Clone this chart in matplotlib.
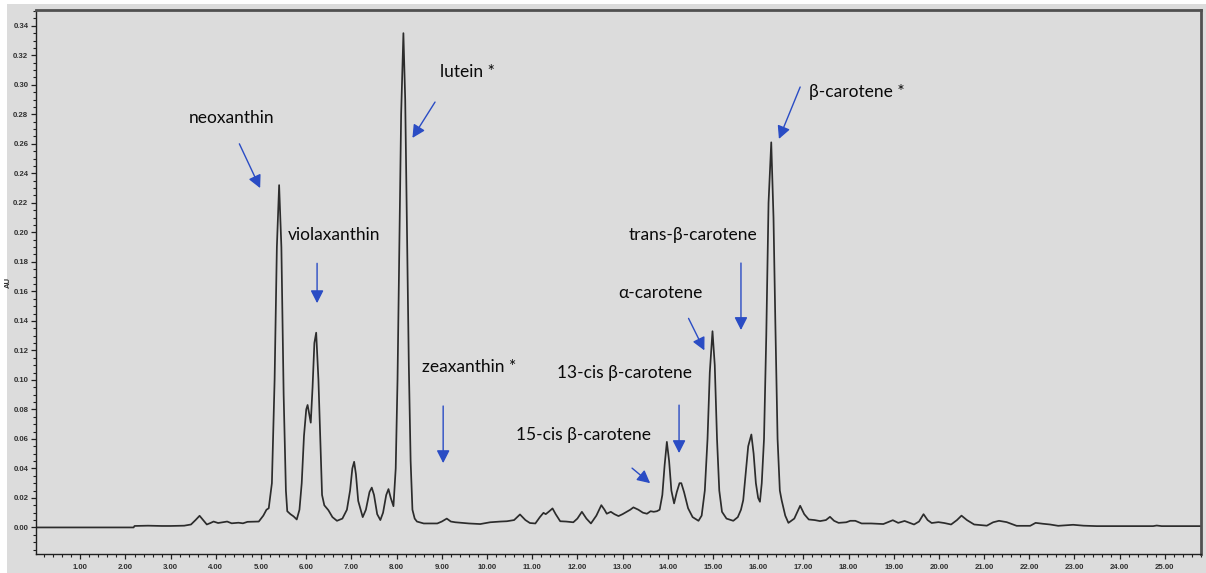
import matplotlib
matplotlib.use("Agg")
import matplotlib.pyplot as plt
from matplotlib.ticker import MultipleLocator, FormatStrFormatter
from matplotlib.patches import Rectangle

# ---- data ----
time_min = [0.00, 2.18, 2.20, 2.50, 2.80, 3.00, 3.30, 3.45, 3.55, 3.64, 3.72, 3.80, 3.88, 3.95,
            4.05, 4.25, 4.35, 4.50, 4.60, 4.70, 4.95, 5.05, 5.12, 5.17, 5.24, 5.30, 5.35, 5.40,
            5.45, 5.50, 5.55, 5.58, 5.65, 5.72, 5.79, 5.85, 5.90, 5.95, 6.00, 6.03, 6.07, 6.10,
            6.14, 6.18, 6.22, 6.27, 6.31, 6.35, 6.40, 6.49, 6.58, 6.68, 6.80, 6.90, 6.97, 7.02,
            7.06, 7.10, 7.15, 7.25, 7.32, 7.40, 7.45, 7.50, 7.57, 7.64, 7.70, 7.77, 7.82, 7.87,
            7.93, 7.98, 8.02, 8.06, 8.10, 8.15, 8.19, 8.23, 8.27, 8.31, 8.35, 8.40, 8.45, 8.60,
            8.90, 9.00, 9.11, 9.20, 9.30, 9.60, 9.85, 10.07, 10.30, 10.44, 10.60, 10.73, 10.85,
            10.95, 11.07, 11.17, 11.25, 11.30, 11.38, 11.45, 11.52, 11.62, 11.75, 11.91, 12.00,
            12.10, 12.20, 12.30, 12.42, 12.53, 12.60, 12.65, 12.74, 12.82, 12.91, 13.00, 13.09,
            13.17, 13.24, 13.35, 13.45, 13.54, 13.62, 13.69, 13.76, 13.82, 13.88, 13.93, 13.98,
            14.03, 14.08, 14.14, 14.20, 14.26, 14.30, 14.36, 14.45, 14.55, 14.68, 14.75, 14.82,
            14.88, 14.93, 14.99, 15.04, 15.09, 15.14, 15.20, 15.30, 15.45, 15.55, 15.62, 15.67,
            15.72, 15.78, 15.85, 15.90, 15.95, 16.00, 16.04, 16.08, 16.13, 16.18, 16.23, 16.29,
            16.34, 16.38, 16.43, 16.48, 16.52, 16.60, 16.67, 16.80, 16.93, 17.02, 17.12, 17.25,
            17.37, 17.50, 17.59, 17.68, 17.78, 17.95, 18.04, 18.15, 18.29, 18.50, 18.77, 18.98,
            19.10, 19.24, 19.45, 19.56, 19.66, 19.75, 19.84, 19.99, 20.12, 20.27, 20.40, 20.50,
            20.62, 20.78, 21.06, 21.20, 21.33, 21.50, 21.72, 22.02, 22.14, 22.30, 22.46, 22.64,
            22.97, 23.20, 23.49, 24.74, 24.82, 24.93, 25.80]
absorbance_au = [0.0000, 0.0000, 0.0010, 0.0012, 0.0010, 0.0010, 0.0012, 0.0020, 0.0050, 0.0079,
                 0.0050, 0.0020, 0.0030, 0.0040, 0.0030, 0.0040, 0.0028, 0.0032, 0.0028, 0.0038,
                 0.0040, 0.0080, 0.0120, 0.0130, 0.0300, 0.1000, 0.1900, 0.2320, 0.1900, 0.0900,
                 0.0250, 0.0110, 0.0090, 0.0075, 0.0054, 0.0120, 0.0300, 0.0620, 0.0800, 0.0830,
                 0.0760, 0.0710, 0.0950, 0.1250, 0.1320, 0.1000, 0.0600, 0.0220, 0.0150, 0.0117,
                 0.0070, 0.0045, 0.0060, 0.0120, 0.0250, 0.0400, 0.0445, 0.0360, 0.0180, 0.0070,
                 0.0120, 0.0240, 0.0270, 0.0220, 0.0090, 0.0050, 0.0100, 0.0220, 0.0260, 0.0200,
                 0.0144, 0.0400, 0.1000, 0.1900, 0.2800, 0.3350, 0.2900, 0.2000, 0.1100, 0.0450,
                 0.0120, 0.0060, 0.0040, 0.0027, 0.0027, 0.0040, 0.0060, 0.0040, 0.0035, 0.0027,
                 0.0023, 0.0035, 0.0040, 0.0042, 0.0050, 0.0088, 0.0050, 0.0030, 0.0027, 0.0070,
                 0.0099, 0.0090, 0.0110, 0.0129, 0.0090, 0.0042, 0.0040, 0.0035, 0.0060, 0.0106,
                 0.0060, 0.0027, 0.0080, 0.0151, 0.0120, 0.0093, 0.0106, 0.0090, 0.0077, 0.0090,
                 0.0106, 0.0120, 0.0136, 0.0120, 0.0100, 0.0093, 0.0110, 0.0106, 0.0110, 0.0120,
                 0.0220, 0.0420, 0.0580, 0.0450, 0.0250, 0.0163, 0.0240, 0.0300, 0.0300, 0.0240,
                 0.0130, 0.0070, 0.0045, 0.0080, 0.0250, 0.0600, 0.1050, 0.1330, 0.1100, 0.0600,
                 0.0250, 0.0106, 0.0060, 0.0045, 0.0070, 0.0120, 0.0185, 0.0350, 0.0550, 0.0630,
                 0.0500, 0.0300, 0.0200, 0.0174, 0.0300, 0.0600, 0.1300, 0.2200, 0.2610, 0.2100,
                 0.1400, 0.0600, 0.0250, 0.0185, 0.0080, 0.0031, 0.0060, 0.0147, 0.0090, 0.0054,
                 0.0050, 0.0043, 0.0050, 0.0072, 0.0045, 0.0031, 0.0035, 0.0045, 0.0045, 0.0027,
                 0.0027, 0.0023, 0.0049, 0.0031, 0.0044, 0.0020, 0.0040, 0.0090, 0.0050, 0.0030,
                 0.0036, 0.0030, 0.0020, 0.0050, 0.0080, 0.0050, 0.0020, 0.0012, 0.0035, 0.0045,
                 0.0036, 0.0011, 0.0011, 0.0031, 0.0025, 0.0020, 0.0011, 0.0018, 0.0012, 0.0009,
                 0.0009, 0.0013, 0.0009, 0.0009]

peak_labels = ["neoxanthin", "violaxanthin", "lutein *", "zeaxanthin *", "15-cis β-carotene",
               "13-cis β-carotene", "α-carotene", "trans-β-carotene", "β-carotene *"]
label_time = [4.35, 6.61, 9.57, 9.60, 12.14, 13.04, 13.83, 14.55, 18.18]
label_au = [0.2775, 0.198, 0.3087, 0.1087, 0.0626, 0.1046, 0.1589, 0.198, 0.295]
arrow_tail_time = [4.52, 6.24, 8.85, 9.03, 13.21, 14.25, 14.46, 15.62, 16.93]
arrow_tail_au = [0.260, 0.179, 0.2883, 0.0823, 0.0402, 0.0829, 0.1417, 0.1792, 0.2985]
arrow_head_time = [4.98, 6.24, 8.35, 9.03, 13.61, 14.25, 14.81, 15.62, 16.46]
arrow_head_au = [0.230, 0.152, 0.264, 0.0436, 0.030, 0.0504, 0.120, 0.1338, 0.2633]

x_ticks = [1, 2, 3, 4, 5, 6, 7, 8, 9, 10, 11, 12, 13, 14, 15, 16, 17, 18, 19, 20, 21, 22, 23, 24, 25]
y_ticks = [0.00, 0.02, 0.04, 0.06, 0.08, 0.10, 0.12, 0.14, 0.16, 0.18, 0.20, 0.22, 0.24, 0.26,
           0.28, 0.30, 0.32, 0.34]

# ---- figure ----
bg = "#dcdcdc"
fig = plt.figure(figsize=(12.06, 5.73), dpi=100, facecolor=bg)
ax = fig.add_axes([36 / 1206, 1 - 554 / 573, (1201 - 36) / 1206, (554 - 10) / 573])
ax.set_facecolor(bg)

ax.plot(time_min, absorbance_au, color="#2c2c2c", lw=1.25, solid_joinstyle="round")

ax.set_xlim(0.02, 25.8)
ax.set_ylim(-0.018, 0.3507)
ax.set_xticks(x_ticks)
ax.set_yticks(y_ticks)
ax.xaxis.set_major_formatter(FormatStrFormatter("%.2f"))
ax.yaxis.set_major_formatter(FormatStrFormatter("%.2f"))
ax.xaxis.set_minor_locator(MultipleLocator(0.2))
ax.yaxis.set_minor_locator(MultipleLocator(0.005))

for lab in ax.get_xticklabels() + ax.get_yticklabels():
    lab.set_fontfamily("Liberation Sans")
    lab.set_fontsize(5.6)
    lab.set_fontweight("bold")
    lab.set_color("#303030")
ax.tick_params(axis="both", which="major", direction="out", length=3.5, width=0.9,
               color="#202020", pad=2)
ax.tick_params(axis="both", which="minor", direction="out", length=2, width=0.8, color="#202020")
ax.tick_params(axis="x", pad=4)

for side in ["left", "bottom"]:
    ax.spines[side].set_color("#202020")
    ax.spines[side].set_linewidth(1.0)
for side in ["top", "right"]:
    ax.spines[side].set_color("#505050")
    ax.spines[side].set_linewidth(2.0)

ax.set_ylabel("AU", fontsize=5.5, family="Liberation Sans", fontweight="bold",
              labelpad=1, color="#303030")

label_fonts = ["Lato", "Noto Sans", "DejaVu Sans"]
for lab, tx, ty in zip(peak_labels, label_time, label_au):
    ax.text(tx, ty, lab, ha="center", va="center", fontsize=12.5, family=label_fonts,
            color="#0a0a0a")

for t0, y0, t1, y1 in zip(arrow_tail_time, arrow_tail_au, arrow_head_time, arrow_head_au):
    ax.annotate("", xy=(t1, y1), xytext=(t0, y0),
                arrowprops=dict(arrowstyle="-|>,head_length=0.55,head_width=0.28",
                                color="#2a4cc4", lw=1.0, mutation_scale=14,
                                shrinkA=0, shrinkB=0))

# white border strips of the original screenshot
fig.patches.append(Rectangle((0, 0), 7 / 1206, 1, transform=fig.transFigure,
                             facecolor="white", edgecolor="none", zorder=-1))
fig.patches.append(Rectangle((0, 1 - 4 / 573), 1, 4 / 573, transform=fig.transFigure,
                             facecolor="white", edgecolor="none", zorder=-1))

fig.savefig("out.png", dpi=100, facecolor=bg)
